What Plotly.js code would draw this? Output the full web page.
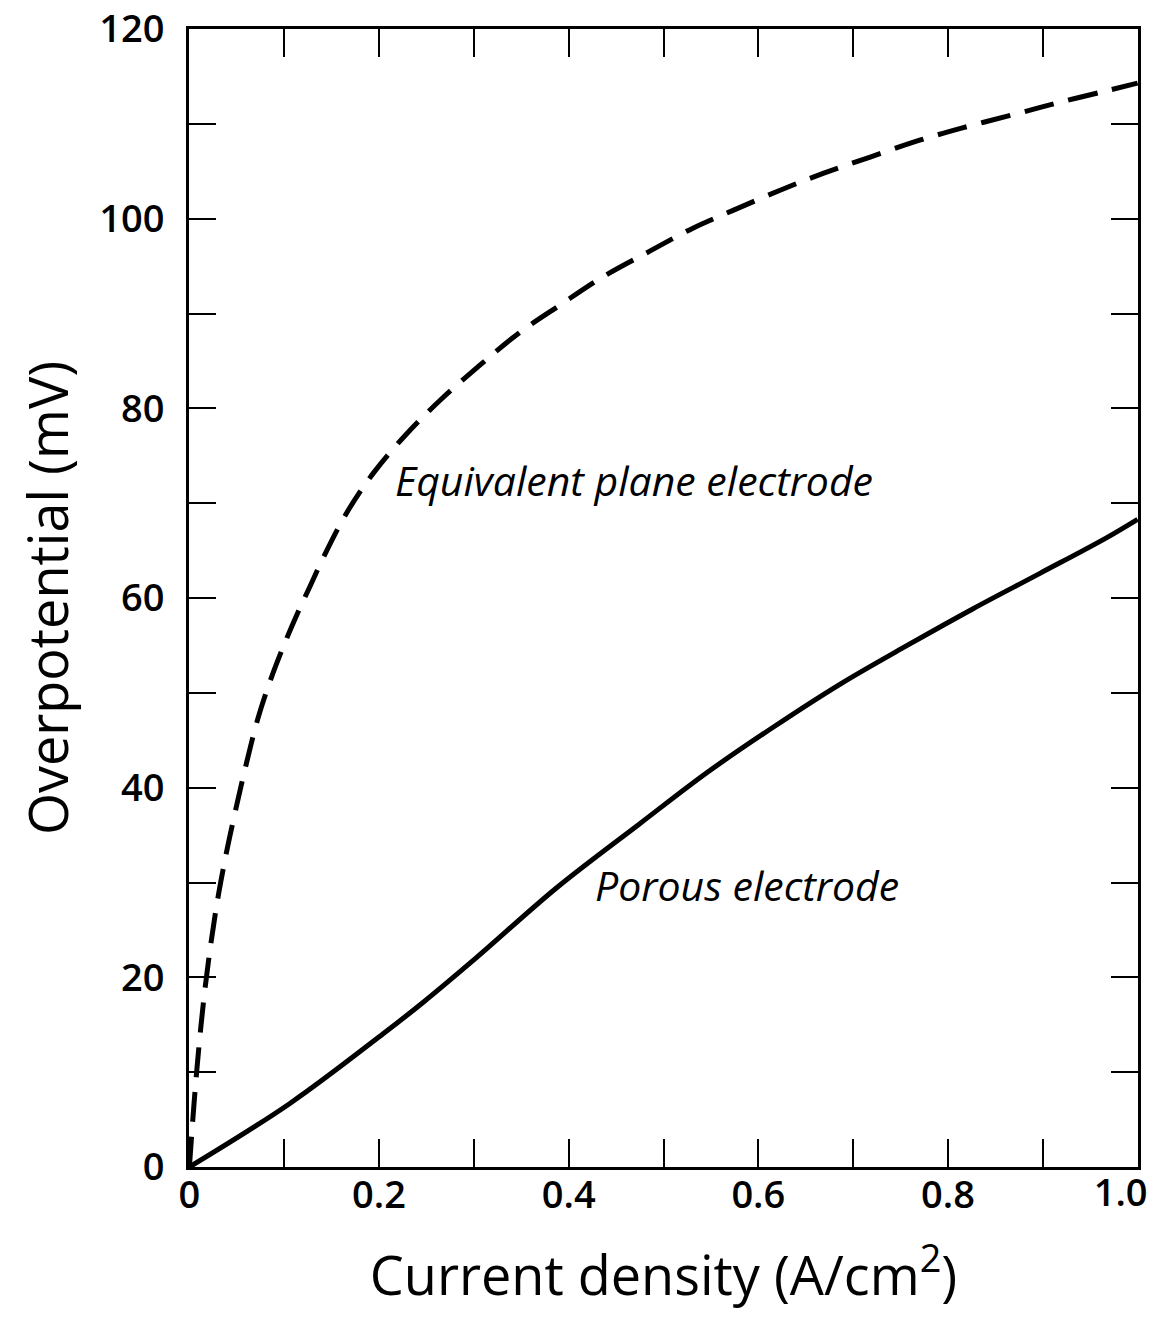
<!DOCTYPE html>
<html>
<head>
<meta charset="utf-8">
<script src="https://cdn.plot.ly/plotly-3.0.1.min.js"></script>
<style>
  html, body { margin: 0; padding: 0; background: #fff; }
  #chart { width: 1153px; height: 1325px; }
</style>
</head>
<body>
<div id="chart"></div>
<script>
// Current density (A/cm^2) and overpotential (mV) for the equivalent plane electrode
const planeCurrent = [0, 0.005, 0.010, 0.016, 0.023, 0.031, 0.040, 0.050, 0.060, 0.072, 0.085,
  0.100, 0.115, 0.128, 0.140, 0.166, 0.195, 0.229, 0.265, 0.307, 0.347, 0.391, 0.435, 0.486,
  0.531, 0.574, 0.623, 0.669, 0.718, 0.771, 0.820, 0.870, 0.915, 0.964, 1.0];
const planeOverpotential = [0, 6.8, 12.6, 18.4, 23.8, 28.9, 33.6, 38.2, 42.5, 47.2, 51.2,
  55.1, 58.6, 61.4, 64.0, 69.0, 73.3, 77.3, 80.9, 84.6, 87.9, 90.9, 93.8, 96.6,
  99.0, 100.9, 103.0, 104.8, 106.5, 108.3, 109.7, 111.0, 112.2, 113.4, 114.3];

// Current density and overpotential for the porous electrode
const porousCurrent = [0, 0.106, 0.205, 0.247, 0.303, 0.388, 0.475, 0.546, 0.616, 0.686,
  0.757, 0.827, 0.897, 0.968, 1.0];
const porousOverpotential = [0, 6.7, 14.1, 17.4, 22.1, 29.5, 36.2, 41.6, 46.4, 50.9,
  55.0, 58.9, 62.6, 66.4, 68.3];

// Curve labels
const curveLabels = ["Equivalent plane electrode", "Porous electrode"];
const labelX = [0.215, 0.426];
const labelY = [72.4, 29.7];

const xTickVals = [0, 0.2, 0.4, 0.6, 0.8];
const xTickText = ["0", "0.2", "0.4", "0.6", "0.8"];
// Label at the right-hand end of the x axis, drawn by an overlaid axis so it can be nudged inward
const xEndTickVals = [1.0];
const xEndTickText = ["1.0"];
const yTickVals = [0, 20, 40, 60, 80, 100, 120];
const yTickText = ["0", "20", "40", "60", "80", "100", "120"];

const FONT = "'Open Sans', 'DejaVu Sans', sans-serif";
const X_RANGE = [-0.0004, 1.0004];

const traces = [
  {
    x: planeCurrent, y: planeOverpotential, type: "scatter", mode: "lines",
    line: { color: "#000", width: 5, dash: "30px,15px", shape: "spline", smoothing: 1.0 },
    hoverinfo: "skip", cliponaxis: false
  },
  {
    x: porousCurrent, y: porousOverpotential, type: "scatter", mode: "lines",
    xaxis: "x2", yaxis: "y",
    line: { color: "#000", width: 5, shape: "spline", smoothing: 1.0 },
    hoverinfo: "skip", cliponaxis: false
  }
];

const tickFont = { family: FONT, size: 38, color: "#000", weight: 600 };

const axisCommon = {
  showgrid: false, zeroline: false, showline: true, linecolor: "#000", linewidth: 3,
  mirror: "ticks", ticks: "inside", tickcolor: "#000", tickwidth: 2,
  ticklabeloverflow: "allow",
  tickfont: tickFont
};

const layout = {
  width: 1153, height: 1325,
  paper_bgcolor: "#fff", plot_bgcolor: "#fff",
  margin: { l: 189, r: 15, t: 29, b: 158 },
  showlegend: false,
  xaxis: Object.assign({}, axisCommon, {
    range: X_RANGE, tickvals: xTickVals, ticktext: xTickText, ticklen: 28,
    ticklabelstandoff: -8,
    minor: { dtick: 0.1, tick0: 0, ticks: "inside", ticklen: 28, tickwidth: 2, tickcolor: "#000", showgrid: false },
    title: { text: "Current density (A/cm<sup>2</sup>)", font: { family: FONT, size: 54, color: "#000" }, standoff: 40 }
  }),
  xaxis2: {
    overlaying: "x", anchor: "y", side: "bottom", matches: "x",
    range: X_RANGE, tickvals: xEndTickVals, ticktext: xEndTickText,
    showgrid: false, zeroline: false, showline: false, ticks: "",
    ticklabelstandoff: 0, ticklabelshift: -17, ticklabeloverflow: "allow",
    tickfont: tickFont
  },
  yaxis: Object.assign({}, axisCommon, {
    range: [0, 120], tickvals: yTickVals, ticktext: yTickText, ticklen: 27,
    ticklabelstandoff: 14,
    minor: { dtick: 10, tick0: 0, ticks: "inside", ticklen: 27, tickwidth: 2, tickcolor: "#000", showgrid: false },
    title: { text: "Overpotential (mV)", font: { family: FONT, size: 54, color: "#000" }, standoff: 14 }
  }),
  annotations: curveLabels.map((t, i) => ({
    x: labelX[i], y: labelY[i], xref: "x", yref: "y", text: "<i>" + t + "</i>",
    showarrow: false, xanchor: "left", yanchor: "middle",
    font: { family: FONT, size: 41, color: "#000" }
  }))
};

Plotly.newPlot("chart", traces, layout, { staticPlot: true, displayModeBar: false });
</script>
</body>
</html>
